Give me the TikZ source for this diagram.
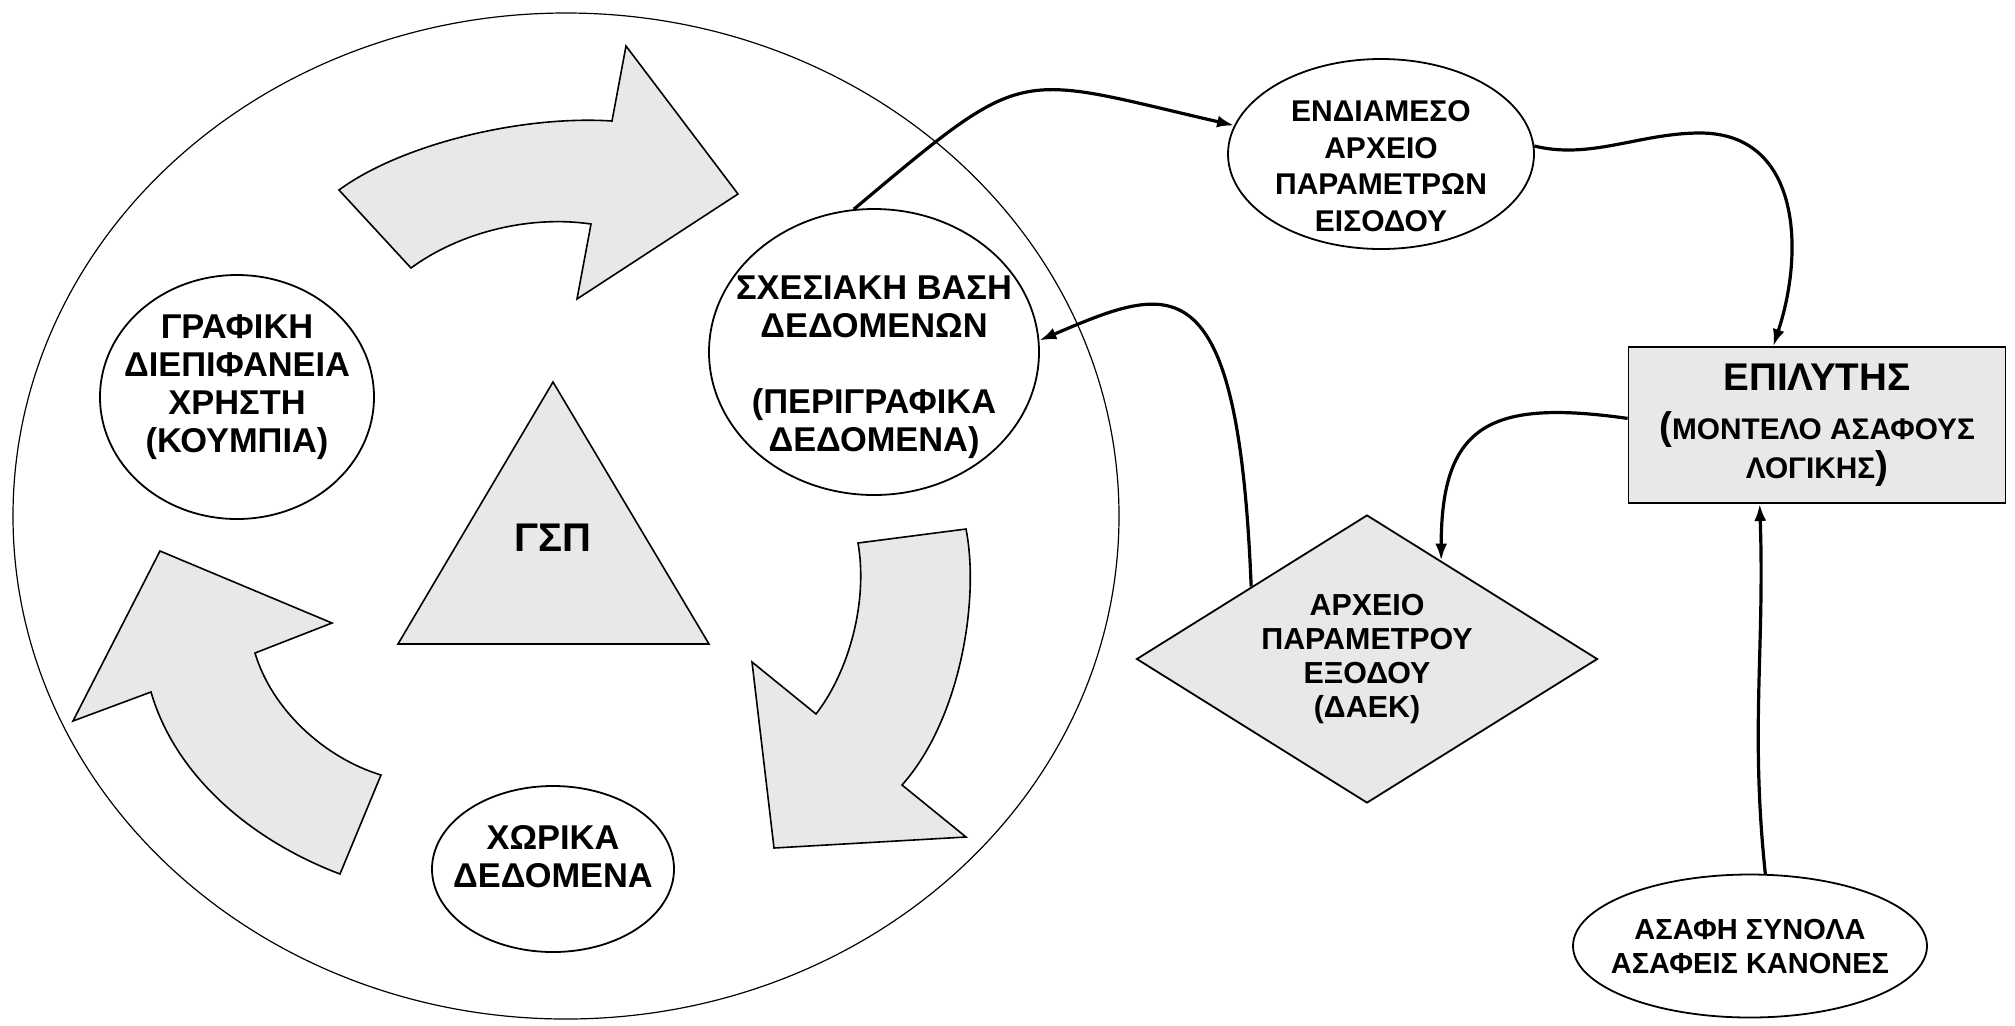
\documentclass[tikz,border=0pt]{standalone}
\usepackage{fontspec}
\setmainfont{Liberation Sans}
\usetikzlibrary{shapes.geometric,arrows.meta}
\definecolor{shade}{RGB}{232,232,232}
\tikzset{
  txt/.style={font=\bfseries\fontsize{17.2}{19}\selectfont, align=center},
  small/.style={font=\bfseries\fontsize{14.5}{17}\selectfont, align=center},
  blob/.style 2 args={ellipse, draw, line width=0.9pt, fill=white, inner sep=0pt,
    minimum width=#1, minimum height=#2},
  turn/.style={draw, fill=shade, line width=0.8pt},
  link/.style={line width=1.6pt, -{Latex[length=8.5pt,width=6pt]}},
}
\begin{document}
\begin{tikzpicture}[x=0.5pt, y=-0.5pt]
  \useasboundingbox (0,0) rectangle (2015,1025);
  \draw[line width=0.6pt] (566,516) ellipse [x radius=553, y radius=503];

  % curved block arrows
  \draw[turn] (339,190) .. controls (400,145) and (520,115) .. (612,121)
    -- (626,46) -- (738,194) -- (577,299) -- (591,224)
    .. controls (530,215) and (460,232) .. (411,268) -- cycle;
  \draw[turn] (858,543) -- (966,529) .. controls (980,600) and (960,720) .. (902,785)
    -- (966,837) -- (774,848) -- (752,662) -- (816,714)
    .. controls (850,670) and (868,600) .. (858,543) -- cycle;
  \draw[turn] (381,775) -- (340,874) .. controls (250,840) and (175,775) .. (151,692)
    -- (73,721) -- (160,551) -- (332,623) -- (255,653)
    .. controls (272,710) and (325,758) .. (381,775) -- cycle;

  \draw[turn] (553,382) -- (709,644) -- (398,644) -- cycle;
  \node (gsp) [font=\bfseries\fontsize{20}{24}\selectfont] at (553,538) {ΓΣΠ};

  \node (gui) [blob={137pt}{122pt},
    label={[txt, yshift=5pt]center:ΓΡΑΦΙΚΗ\\ΔΙΕΠΙΦΑΝΕΙΑ\\ΧΡΗΣΤΗ\\(ΚΟΥΜΠΙΑ)}] at (237,397) {};
  \node (sdb) [blob={165pt}{143pt},
    label={[txt, yshift=-7.5pt]center:ΣΧΕΣΙΑΚΗ ΒΑΣΗ\\ΔΕΔΟΜΕΝΩΝ\\[19pt](ΠΕΡΙΓΡΑΦΙΚΑ\\ΔΕΔΟΜΕΝΑ)}] at (874,352) {};
  \node (spatial) [blob={121pt}{83pt},
    label={[txt, yshift=6pt]center:ΧΩΡΙΚΑ\\ΔΕΔΟΜΕΝΑ}] at (553,869) {};
  \node (mid) [blob={153pt}{95pt},
    label={[small, font=\bfseries\fontsize{15}{18.3}\selectfont, yshift=-6pt]center:ΕΝΔΙΑΜΕΣΟ\\ΑΡΧΕΙΟ\\ΠΑΡΑΜΕΤΡΩΝ\\ΕΙΣΟΔΟΥ}] at (1381,154) {};
  \node (solver) [rectangle, draw, fill=shade, line width=0.9pt, inner sep=0pt,
    minimum width=188.5pt, minimum height=78pt, align=center,
    font=\bfseries\fontsize{14.9}{19.5}\selectfont] at (1817,425)
    {{\fontsize{19.3}{22}\selectfont ΕΠΙΛΥΤΗΣ}\\[5pt]{\fontsize{19.3}{20}\selectfont(}ΜΟΝΤΕΛΟ ΑΣΑΦΟΥΣ\\ΛΟΓΙΚΗΣ{\fontsize{19.3}{20}\selectfont)}};
  \node (daek) [diamond, draw, fill=shade, line width=0.9pt, inner sep=0pt,
    minimum width=230.5pt, minimum height=144pt,
    label={[small, font=\bfseries\fontsize{15.2}{17}\selectfont]center:ΑΡΧΕΙΟ\\ΠΑΡΑΜΕΤΡΟΥ\\ΕΞΟΔΟΥ\\(ΔΑΕΚ)}] at (1367,659) {};
  \node (fuzzy) [blob={177pt}{71.5pt},
    label={[small]center:ΑΣΑΦΗ ΣΥΝΟΛΑ\\ΑΣΑΦΕΙΣ ΚΑΝΟΝΕΣ}] at (1750,946) {};

  \begin{scope}[link]
    \draw (sdb.98) to[out=40, in=167, looseness=1.5] (mid.169);
    \draw (mid.3) .. controls (1590,160) and (1640,133) .. (1700,133)
      .. controls (1800,133) and (1805,250) .. (solver.119);
    \draw (solver.178) to[out=172, in=90, looseness=1.5] (daek.53);
    \draw (daek.148) .. controls (1238,255) and (1170,285) .. (sdb.4);
    \draw (fuzzy.78) to[out=96, in=-88] (solver.234);
  \end{scope}
\end{tikzpicture}
\end{document}
